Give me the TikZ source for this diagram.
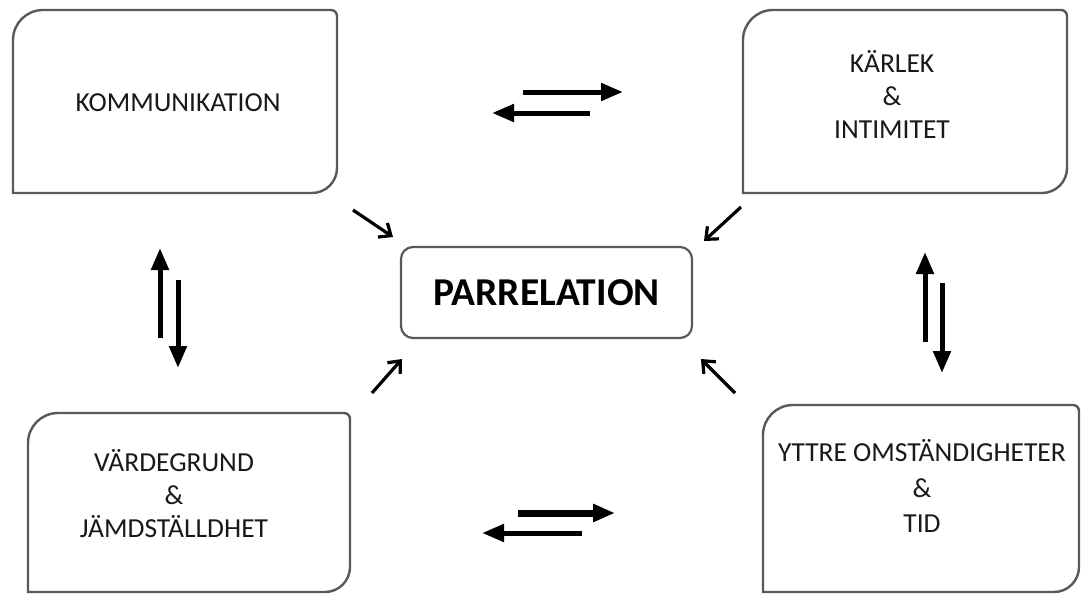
\documentclass[tikz,border=0pt]{standalone}
\usepackage{fontspec}
\setmainfont{Carlito}
\usetikzlibrary{arrows.meta}
\tikzset{
  boxnode/.style={inner sep=0pt, outer sep=0pt, draw=none},
  boxline/.style={draw=black!65, line width=2.4pt},
  lbl/.style={align=center, font=\fontsize{27.5}{33}\selectfont, text=black!90},
  mainbox/.style={draw=black!65, line width=2.2pt, rounded corners=12pt, inner sep=0pt, outer sep=0pt,
    font=\fontsize{39.5}{40}\selectfont\bfseries},
  thickarrow/.style={line width=5pt, -{Triangle[length=22pt,width=17pt]}},
  diagarrow/.style={line width=3.2pt, -{Straight Barb[length=10pt,width=17pt]}}
}
\newcommand{\partround}[1]{%
  \draw[boxline] ([yshift=-30pt]#1.north west) arc[start angle=180,end angle=90,radius=30pt]
    -- ([xshift=-6pt]#1.north east) arc[start angle=90,end angle=0,radius=6pt]
    -- ([yshift=25pt]#1.south east) arc[start angle=0,end angle=-90,radius=25pt]
    -- (#1.south west) -- cycle;}
\begin{document}
\begin{tikzpicture}[x=1pt,y=-1pt]
\useasboundingbox[fill=white] (0,0) rectangle (1081,594);

% boxes
\node[boxnode, minimum width=324pt, minimum height=183pt] (kom) at (175,101.5) {};
\node[boxnode, minimum width=324pt, minimum height=183pt] (kar) at (905,101.5) {};
\node[boxnode, minimum width=322pt, minimum height=179pt] (var) at (189,502.5) {};
\node[boxnode, minimum width=316pt, minimum height=187pt] (ytt) at (921,498.5) {};
\partround{kom}
\partround{kar}
\partround{var}
\partround{ytt}

% texts
\node[lbl] (komT) at (178,103) {KOMMUNIKATION};
\node[lbl] (karT) at (892,94) {KÄRLEK\\\&\\INTIMITET};
\node[lbl] (varT) at (174,494) {VÄRDEGRUND\\\&\\JÄMDSTÄLLDHET};
\node[lbl, font=\fontsize{27.5}{35.5}\selectfont] (yttT) at (922,486) {YTTRE OMSTÄNDIGHETER\\\&\\TID};

\node[mainbox, minimum width=291pt, minimum height=91pt] (par) at (546.5,292.5) {PARRELATION};

% arrow coordinates
\coordinate (t1s) at (523,92);  \coordinate (t1e) at (623,92);
\coordinate (t2s) at (590,113); \coordinate (t2e) at (492,113);
\coordinate (b1s) at (518,513); \coordinate (b1e) at (615,513);
\coordinate (b2s) at (582,533); \coordinate (b2e) at (482,533);
\coordinate (l1s) at (160,338); \coordinate (l1e) at (160,248);
\coordinate (l2s) at (178,280); \coordinate (l2e) at (178,368);
\coordinate (r1s) at (925,342); \coordinate (r1e) at (925,252);
\coordinate (r2s) at (942,283); \coordinate (r2e) at (942,373);
\coordinate (d1s) at (353,210); \coordinate (d1e) at (393,237);
\coordinate (d2s) at (741,207); \coordinate (d2e) at (704,241);
\coordinate (d3s) at (372,393); \coordinate (d3e) at (402,359);
\coordinate (d4s) at (735,393); \coordinate (d4e) at (701,359);

\draw[thickarrow] (t1s) -- (t1e);
\draw[thickarrow] (t2s) -- (t2e);
\draw[thickarrow, line width=7pt] (b1s) -- (b1e);
\draw[thickarrow] (b2s) -- (b2e);
\draw[thickarrow] (l1s) -- (l1e);
\draw[thickarrow] (l2s) -- (l2e);
\draw[thickarrow] (r1s) -- (r1e);
\draw[thickarrow] (r2s) -- (r2e);
\draw[diagarrow] (d1s) -- (d1e);
\draw[diagarrow] (d2s) -- (d2e);
\draw[diagarrow] (d3s) -- (d3e);
\draw[diagarrow] (d4s) -- (d4e);
\end{tikzpicture}
\end{document}
